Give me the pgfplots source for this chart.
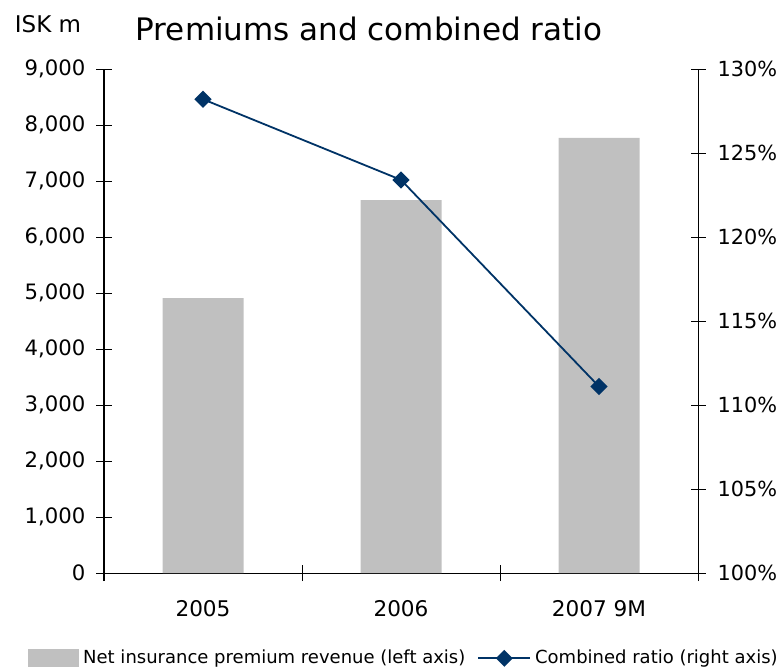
\documentclass[border=0pt]{standalone}
\usepackage{pgfplots}
\pgfplotsset{compat=1.18}
\usepackage{fontspec}
\setmainfont{DejaVu Sans}
\definecolor{bargray}{RGB}{192,192,192}
\definecolor{navy}{RGB}{0,51,102}
\begin{document}
\begin{tikzpicture}
\begin{axis}[name=main, width=297pt, height=252pt, scale only axis,
  xmin=-0.5, xmax=2.5, ymin=0, ymax=9000,
  axis y line*=left, axis x line*=bottom,
  axis line style={-, black, line width=0.5pt},
  xtick={0,1,2}, xticklabels={2005,2006,2007 9M},
  major x tick style={draw=none},
  minor xtick={-0.5,0.5,1.5,2.5},
  ytick={0,1000,...,9000},
  tick align=center, major tick length=7.5pt, minor tick length=8pt,
  tick style={black, line width=0.5pt},
  scaled y ticks=false,
  /pgf/number format/assume math mode=true,
  /pgf/number format/1000 sep={,},
  yticklabel style={font=\fontsize{10.6}{13}\selectfont, xshift=-2pt},
  xticklabel style={font=\fontsize{10.8}{13}\selectfont, yshift=-6.5pt},
  clip=false]
\addplot[ybar, bar width=40.5pt, fill=bargray, draw=none] coordinates {(0,4910) (1,6660) (2,7770)};
\node[anchor=base, font=\fontsize{15.5}{19}\selectfont] at (rel axis cs:0.446,1) [yshift=14.5pt] {Premiums and combined ratio};
\node[anchor=base, font=\fontsize{11.5}{13}\selectfont] at (rel axis cs:0,1) [xshift=-28pt, yshift=18.5pt] {ISK m};
\end{axis}
\begin{axis}[width=297pt, height=252pt, scale only axis,
  xmin=-0.5, xmax=2.5, ymin=100, ymax=130,
  axis y line*=right, axis x line=none,
  axis line style={-, black, line width=0.5pt},
  ytick={100,105,...,130},
  tick align=center, major tick length=7.5pt,
  tick style={black, line width=0.5pt},
  /pgf/number format/assume math mode=true,
  yticklabel={\pgfmathprintnumber{\tick}\%},
  yticklabel style={font=\fontsize{10.4}{13}\selectfont, xshift=2.5pt},
  legend columns=2,
  legend cell align=left,
  legend style={at={(rel axis cs:0,0)}, anchor=south west, xshift=-38pt, yshift=-49pt,
    draw=none, fill=none, inner sep=0pt, font=\fontsize{9}{11}\selectfont,
    /tikz/every even column/.append style={column sep=4pt}},
  clip=false]
\addlegendimage{legend image code/.code={\fill[bargray] (0pt,-4.25pt) rectangle (25pt,4.25pt);}}
\addlegendentry{Net insurance premium revenue (left axis)}
\addplot[navy, line width=0.9pt, mark=square*, mark size=2.6pt, mark options={rotate=45},
  legend image code/.code={\draw[navy, line width=0.9pt] (0pt,0pt) -- (26pt,0pt);
    \fill[navy] (13pt,0pt) +(0,3.6pt) -- +(3.6pt,0) -- +(0,-3.6pt) -- +(-3.6pt,0) -- cycle;}]
  coordinates {(0,128.2) (1,123.4) (2,111.1)};
\addlegendentry{Combined ratio (right axis)}
\end{axis}
\pgfresetboundingbox
\path ([xshift=-52pt,yshift=-49pt]main.south west) rectangle ([xshift=43pt,yshift=34.5pt]main.north east);
\end{tikzpicture}
\end{document}
